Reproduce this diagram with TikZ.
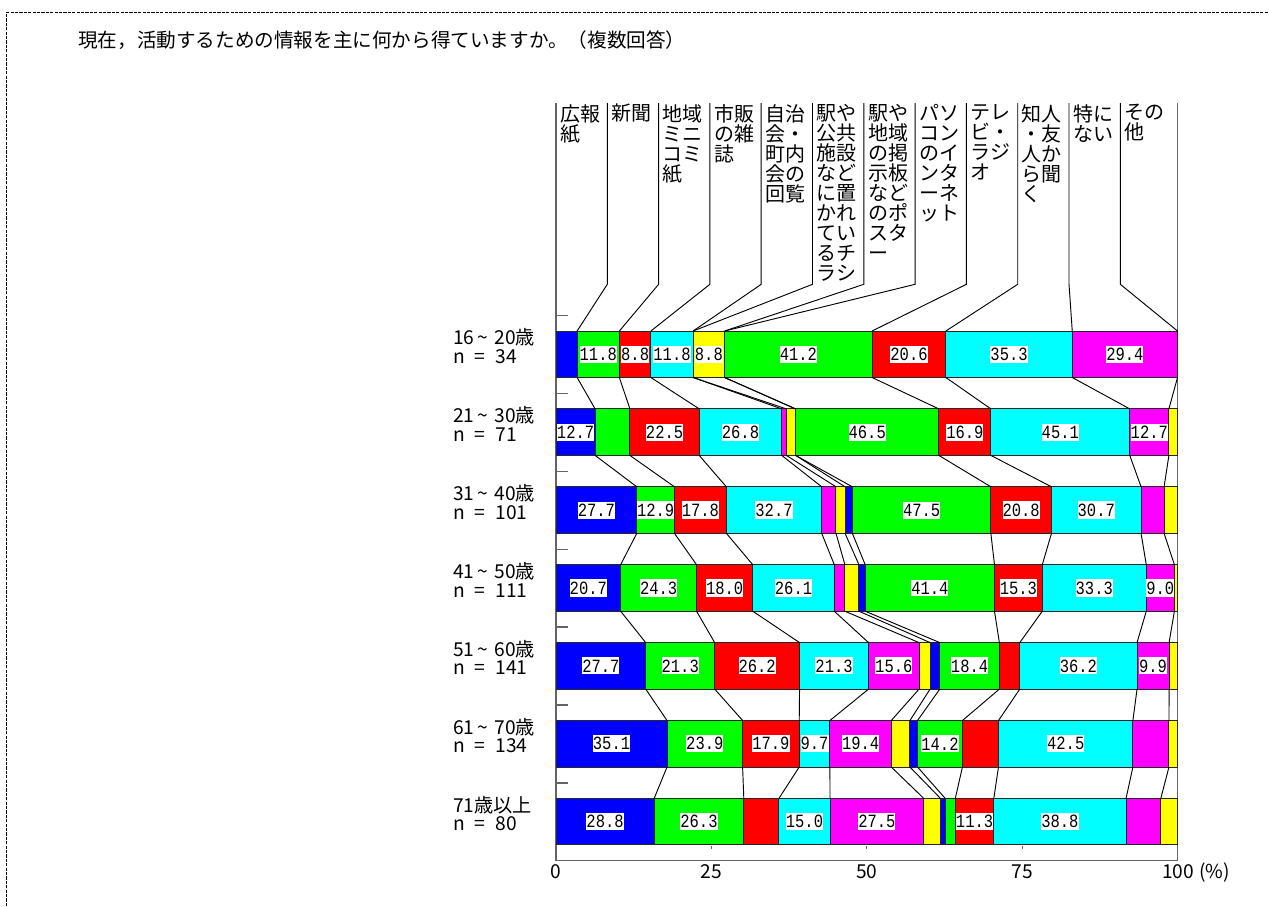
\documentclass[tikz,border=0pt]{standalone}
\usepackage{fontspec}
\setmainfont{Noto Sans CJK JP}
\newfontfamily\numfont[FakeStretch=0.83]{Liberation Mono}
\definecolor{seg0}{RGB}{0,0,255}
\definecolor{seg1}{RGB}{0,255,0}
\definecolor{seg2}{RGB}{255,0,0}
\definecolor{seg3}{RGB}{0,255,255}
\definecolor{seg4}{RGB}{255,0,255}
\definecolor{seg5}{RGB}{255,255,0}
\definecolor{axisgray}{RGB}{100,100,100}
\tikzset{
  segbox/.style={draw=black!85, line width=0.75pt},
  numlbl/.style={fill=white, inner xsep=0pt, inner ysep=1.7pt, font=\numfont\fontsize{14}{14}\selectfont},
  leader/.style={draw=black, line width=0.7pt},
  axisline/.style={draw=axisgray, line width=1pt},
  hdrlbl/.style={anchor=north west, inner sep=0pt, align=left, font=\fontsize{15}{15}\selectfont},
  rowlbl/.style={anchor=base west, inner sep=0pt, align=left, font=\fontsize{14.4}{13.8}\selectfont},
  ticklbl/.style={anchor=base, inner sep=0pt, font=\fontsize{14.4}{14.4}\selectfont},
  border/.style={draw=black, line width=1.4pt, dash pattern=on 2.4pt off 0.9pt}
}
\newcommand\drawrow[2]{%
  \pgfmathsetmacro\ytop{331+77.9*#1}%
  \pgfmathsetmacro\ybot{\ytop+46.5}%
  \pgfmathsetmacro\ymid{\ytop+23.25}%
  \gdef\tot{0}%
  \foreach \v/\s in {#2}{\pgfmathparse{\tot+\v}\xdef\tot{\pgfmathresult}}%
  \gdef\cum{0}%
  \coordinate (t-#1-0) at (556,\ytop);
  \coordinate (b-#1-0) at (556,\ybot);
  \foreach \v/\s [count=\i] in {#2}{%
    \pgfmathsetmacro\xa{556+\cum/\tot*621.5}%
    \pgfmathparse{\cum+\v}\xdef\cum{\pgfmathresult}%
    \pgfmathsetmacro\xb{556+\cum/\tot*621.5}%
    \pgfmathtruncatemacro\ci{mod(\i-1,6)}%
    \coordinate (t-#1-\i) at (\xb,\ytop);
    \coordinate (b-#1-\i) at (\xb,\ybot);
    \ifdim\v pt>0pt
      \path[segbox, fill=seg\ci] (\xa,\ytop) rectangle (\xb,\ybot);
    \fi
    \ifnum\s=1
      \node[numlbl] (v-#1-\i) at ({(\xa+\xb)/2},\ymid) {\v};
    \fi
  }%
}
\newcommand\rowlabel[3]{%
  \node[rowlbl] (r-#1) at (453,{363.3+77.9*#1}) {#2\\n\hspace{7pt}=\hspace{8pt}#3};%
}
\begin{document}
\begin{tikzpicture}[x=0.75pt,y=-0.75pt]
\useasboundingbox (0,0) rectangle (1269,906);
% border
\draw[border] (6.5,906) -- (6.5,12.5) -- (1269,12.5);
% title
\node[anchor=west, inner sep=0pt, font=\fontsize{14.7}{14.7}\selectfont] (title) at (78,40) {現在，活動するための情報を主に何から得ていますか。（複数回答）};
% axes
\draw[axisline] (556,103) -- (556,860.8) -- (1177.5,860.8) -- (1177.5,103);
\foreach \k in {0,...,6}{\draw[axisline] (556,{315.5+77.9*\k}) -- (568,{315.5+77.9*\k});}
\foreach \x in {556,711.4,866.75,1022.1,1177.5}{\draw[axisgray, line width=0.8pt] (\x,846.3) -- (\x,848.5);}
% rows
\drawrow{0}{5.9/0,11.8/1,8.8/1,11.8/1,0/0,8.8/1,0/0,41.2/1,20.6/1,35.3/1,29.4/1,0/0}
\drawrow{1}{12.7/1,11.3/0,22.5/1,26.8/1,1.5/0,3.0/0,0/0,46.5/1,16.9/1,45.1/1,12.7/1,2.8/0}
\drawrow{2}{27.7/1,12.9/1,17.8/1,32.7/1,4.9/0,3.1/0,2.5/0,47.5/1,20.8/1,30.7/1,7.9/0,4.6/0}
\drawrow{3}{20.7/1,24.3/1,18.0/1,26.1/1,3.4/0,4.5/0,2.0/0,41.4/1,15.3/1,33.3/1,9.0/1,1.0/0}
\drawrow{4}{27.7/1,21.3/1,26.2/1,21.3/1,15.6/1,3.4/0,3.0/0,18.4/1,6.3/0,36.2/1,9.9/1,2.6/0}
\drawrow{5}{35.1/1,23.9/1,17.9/1,9.7/1,19.4/1,5.9/0,2.4/0,14.2/1,11.4/0,42.5/1,11.4/0,2.7/0}
\drawrow{6}{28.8/1,26.3/1,10.3/0,15.0/1,27.5/1,4.9/0,1.4/0,2.95/0,11.3/1,38.8/1,10.2/0,4.9/0}
% connectors between rows
\foreach \r in {0,...,5}{%
  \pgfmathtruncatemacro\rn{\r+1}%
  \foreach \i in {1,...,11}{\draw[leader] (b-\r-\i) -- (t-\rn-\i);}%
}
% header leaders
\foreach \j in {1,...,11}{%
  \pgfmathsetmacro\hx{556+51.3*\j}%
  \coordinate (h-\j) at (\hx,103);
  \coordinate (k-\j) at (\hx,284.3);
  \draw[leader] (h-\j) -- (k-\j) -- (t-0-\j);
}
% header labels
\foreach \j/\txt in {0/{広報\\紙},1/{新聞},2/{地域\\ミニ\\コミ\\紙},3/{市販\\の雑\\誌},4/{自治\\会・\\町内\\会の\\回覧},5/{駅や\\公共\\施設\\など\\に置\\かれ\\てい\\るチ\\ラシ},6/{駅や\\地域\\の掲\\示板\\など\\のポ\\スタ\\ー},7/{パソ\\コン\\のイ\\ンタ\\ーネ\\ット},8/{テレ\\ビ・\\ラジ\\オ},9/{知人\\・友\\人か\\ら聞\\く},10/{特に\\ない},11/{その\\他}}{%
  \node[hdrlbl] (lab-\j) at ({556+51.3*\j+4},104) {\txt};
}
% row labels
\rowlabel{0}{16\hspace{2pt}\textasciitilde\hspace{5pt}20歳}{34}
\rowlabel{1}{21\hspace{2pt}\textasciitilde\hspace{5pt}30歳}{71}
\rowlabel{2}{31\hspace{2pt}\textasciitilde\hspace{5pt}40歳}{101}
\rowlabel{3}{41\hspace{2pt}\textasciitilde\hspace{5pt}50歳}{111}
\rowlabel{4}{51\hspace{2pt}\textasciitilde\hspace{5pt}60歳}{141}
\rowlabel{5}{61\hspace{2pt}\textasciitilde\hspace{5pt}70歳}{134}
\rowlabel{6}{71歳以上}{80}
% x axis labels
\node[ticklbl] (x0) at (556,878.3) {0};
\node[ticklbl] (x25) at (711.4,878.3) {25};
\node[ticklbl] (x50) at (866.75,878.3) {50};
\node[ticklbl] (x75) at (1022.1,878.3) {75};
\node[ticklbl] (x100) at (1178,878.3) {100};
\node[ticklbl, anchor=base west] (xpct) at (1199,878.3) {(\%)};
\end{tikzpicture}
\end{document}
